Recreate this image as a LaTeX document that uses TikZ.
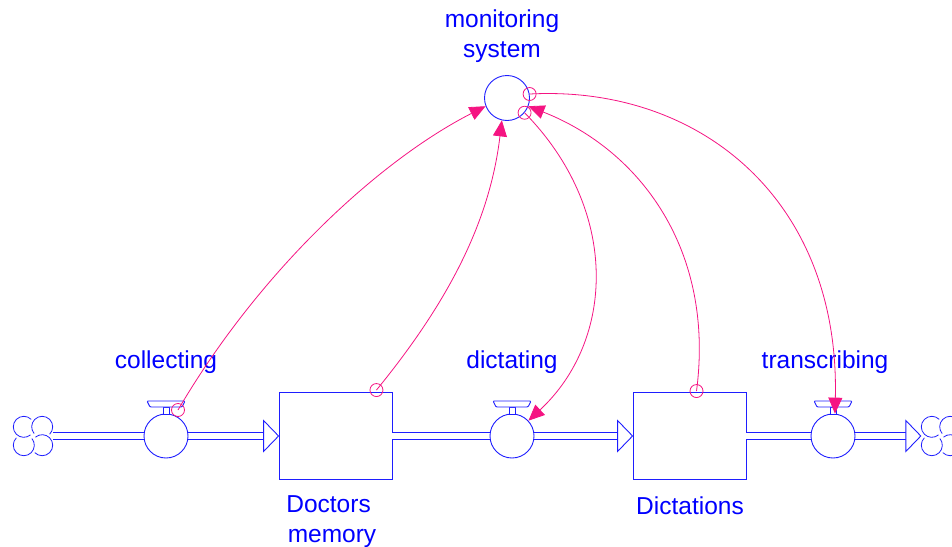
\documentclass[tikz,border=0pt]{standalone}
\usepackage{fontspec}
\setmainfont{Liberation Sans}
\usetikzlibrary{arrows.meta,calc}
\definecolor{lnk}{RGB}{245,20,130}
\definecolor{flowblue}{RGB}{30,30,255}
\begin{document}
\begin{tikzpicture}[x=1pt,y=-1pt,
 lbl/.style={text=blue, font=\fontsize{24.5}{30}\selectfont, inner sep=0pt},
 stockbox/.style={draw=flowblue, line width=0.9pt, minimum width=113pt, minimum height=87pt, inner sep=0pt},
 valvec/.style={circle, draw=flowblue, fill=white, line width=0.9pt, minimum size=44pt, inner sep=0pt},
 auxc/.style={circle, draw=flowblue, fill=white, line width=0.9pt, minimum size=45pt, inner sep=0pt},
 cloudn/.style={circle, minimum size=40pt, inner sep=0pt},
 pipe/.style={draw=flowblue, line width=0.9pt, double=white, double distance=6pt},
 pipehead/.style={draw=flowblue, line width=0.9pt, fill=white, line join=miter},
 link/.style={draw=lnk, line width=0.8pt, -{Triangle[length=16pt,width=14pt]}},
 linkdot/.style={draw=lnk, line width=0.8pt},
 valvetop/.pic={
   \draw[flowblue, line width=0.9pt, fill=white] (-3,-22) rectangle (3,-29);
   \draw[flowblue, line width=0.9pt, fill=white, rounded corners=1pt] (-19,-35) -- (19,-35) -- (16,-29) -- (-16,-29) -- cycle;
 },
 cloudpic/.pic={
   \begin{scope}[yscale=-1]
   \foreach \a in {45,135,225,315}{
     \draw[flowblue, line width=0.8pt] ([shift={(\a:13)}]\a-90:10.5) arc[start angle=\a-90, end angle=\a+175, radius=10.5];
   }
   \end{scope}
 }
]
\useasboundingbox (0,0) rectangle (952,546);

% clouds and stocks
\node[cloudn] (cl) at (33,436) {};
\pic at (cl.center) {cloudpic};
\node[cloudn] (cr) at (941,436) {};
\pic at (cr.center) {cloudpic};
\node[stockbox] (s1) at (335.5,436) {};
\node[stockbox] (s2) at (689.5,436) {};

% pipes
\draw[pipe] (cl.east) -- ($(s1.west)+(-15,0)$);
\draw[pipehead] ($(s1.west)+(-15,-15.5)$) -- (s1.west) -- ($(s1.west)+(-15,15.5)$) -- cycle;
\draw[pipe] (s1.east) -- ($(s2.west)+(-15,0)$);
\draw[pipehead] ($(s2.west)+(-15,-15.5)$) -- (s2.west) -- ($(s2.west)+(-15,15.5)$) -- cycle;
\draw[pipe] (s2.east) -- ($(cr.west)+(-15,0)$);
\draw[pipehead] ($(cr.west)+(-15,-15.5)$) -- (cr.west) -- ($(cr.west)+(-15,15.5)$) -- cycle;

% valves
\node[valvec] (v1) at (166,436) {};
\pic at (v1.center) {valvetop};
\node[valvec] (v2) at (512,436) {};
\pic at (v2.center) {valvetop};
\node[valvec] (v3) at (833,436) {};
\pic at (v3.center) {valvetop};

% auxiliary
\node[auxc] (ms) at (507,98) {};

% labels
\node[lbl, align=center, anchor=base] (lms) at (502,57) {monitoring\\system};
\node[lbl, anchor=base] (lcol) at (166,368) {collecting};
\node[lbl, anchor=base] (ldic) at (512,368) {dictating};
\node[lbl, anchor=base] (ltr) at (825,368) {transcribing};
\node[lbl, align=center, anchor=base] (ldm) at (332,542) {Doctors\hspace*{0.28em}\\memory};
\node[lbl, anchor=base] (ldct) at (690,514) {Dictations};

% connector start points
\coordinate (c1s) at ($(v1.center)+(12,-26)$);
\coordinate (c2s) at ($(s1.north east)+(-16,-2)$);
\coordinate (c3s) at (ms.320);
\coordinate (c4s) at ($(s2.north)+(7,-1)$);
\coordinate (c5s) at (ms.10);

% connectors
\draw[link] (c1s) .. controls (260,270) and (380,160) .. (ms.201);
\draw[link] (c2s) .. controls (450,300) and (490,220) .. (ms.257);
\draw[link] (c3s) .. controls (620,210) and (615,340) .. (v2.43);
\draw[link] (c4s) .. controls (715,250) and (640,150) .. (ms.339);
\draw[link] (c5s) .. controls (700,85) and (840,200) .. (v3.85);
\foreach \p in {c1s,c2s,c3s,c4s,c5s}{
  \draw[linkdot] (\p) circle[radius=6.5];
}
\end{tikzpicture}
\end{document}
